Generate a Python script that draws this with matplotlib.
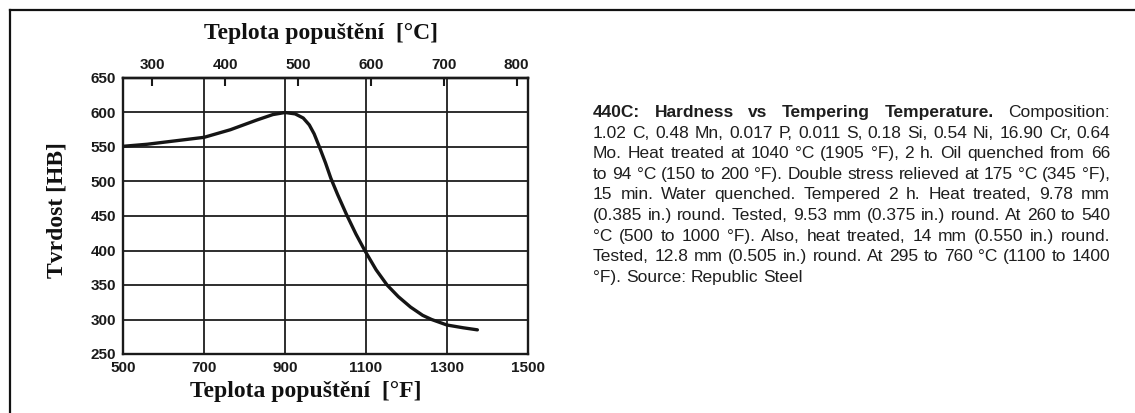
import matplotlib
matplotlib.use("Agg")
import matplotlib.pyplot as plt
from matplotlib.lines import Line2D

# ---------------- data ----------------
temp_F = [500, 560, 630, 700, 765, 830, 870, 900, 925, 945, 960, 972, 985,
          1000, 1013, 1030, 1052, 1075, 1097, 1125, 1152, 1180, 1210, 1240,
          1262, 1300, 1340, 1375]
hardness_HB = [551, 554, 559, 564, 575, 589, 597, 600, 598, 592, 582, 569, 550,
               527, 505, 481, 452, 424, 400, 372, 350, 333, 318, 306,
               300, 292, 288, 285]
x_ticks_F = [500, 700, 900, 1100, 1300, 1500]
y_ticks_HB = [250, 300, 350, 400, 450, 500, 550, 600, 650]
top_ticks_C = [300, 400, 500, 600, 700, 800]

title_top = "Teplota popuštění  [°C]"
title_bottom = "Teplota popuštění  [°F]"
ylabel = "Tvrdost [HB]"

# description, one entry per line: list of (word, bold)
desc_lines = [
    [("440C:", True), ("Hardness", True), ("vs", True), ("Tempering", True),
     ("Temperature.", True), ("Composition:", False)],
    "1.02 C, 0.48 Mn, 0.017 P, 0.011 S, 0.18 Si, 0.54 Ni, 16.90 Cr, 0.64",
    "Mo. Heat treated at 1040 °C (1905 °F), 2 h. Oil quenched from 66",
    "to 94 °C (150 to 200 °F). Double stress relieved at 175 °C (345 °F),",
    "15 min. Water quenched. Tempered 2 h. Heat treated, 9.78 mm",
    "(0.385 in.) round. Tested, 9.53 mm (0.375 in.) round. At 260 to 540",
    "°C (500 to 1000 °F). Also, heat treated, 14 mm (0.550 in.) round.",
    "Tested, 12.8 mm (0.505 in.) round. At 295 to 760 °C (1100 to 1400",
    "°F). Source: Republic Steel",
]

W, H = 1135, 413
fig = plt.figure(figsize=(W / 100, H / 100), dpi=100)
fig.patch.set_facecolor("white")

def fx(px):
    return px / W

def fy(py):
    return 1 - py / H

# ---------------- main axes ----------------
ax_l, ax_r, ax_t, ax_b = 123, 528, 78, 354
ax = fig.add_axes([fx(ax_l), fy(ax_b), fx(ax_r - ax_l), (ax_b - ax_t) / H])
ax.plot(temp_F, hardness_HB, color="#151515", lw=2.4, solid_capstyle="round",
        solid_joinstyle="round", zorder=3)
ax.set_xlim(500, 1500)
ax.set_ylim(250, 650)
ax.set_xticks(x_ticks_F)
ax.set_yticks(y_ticks_HB)
ax.grid(True, color="#1e1e1e", lw=1.3)
ax.set_axisbelow(True)
ax.tick_params(length=0, labelsize=11, pad=5, colors="#1a1a1a")
for lab in ax.get_xticklabels() + ax.get_yticklabels():
    lab.set_fontweight("bold")
    lab.set_family("Liberation Sans")
for sp in ax.spines.values():
    sp.set_linewidth(1.7)
    sp.set_color("#1a1a1a")

def f2c(f):
    return (f - 32) * 5 / 9

def c2f(c):
    return c * 9 / 5 + 32

sec = ax.secondary_xaxis("top", functions=(f2c, c2f))
sec.set_xticks(top_ticks_C)
sec.tick_params(direction="in", length=6, width=1.5, pad=4, labelsize=11,
                colors="#1a1a1a")
for lab in sec.get_xticklabels():
    lab.set_fontweight("bold")
    lab.set_family("Liberation Sans")
sec.spines["top"].set_linewidth(1.7)

# ---------------- titles ----------------
fig.text(fx(321), fy(33), title_top, ha="center", va="center",
         family="Liberation Serif", fontweight="bold", fontsize=17, color="#111")
fig.text(fx(306), fy(392), title_bottom, ha="center", va="center",
         family="Liberation Serif", fontweight="bold", fontsize=17, color="#111")
fig.text(fx(57), fy(210), ylabel, ha="center", va="center", rotation=90,
         family="Liberation Serif", fontweight="bold", fontsize=17, color="#111")

# ---------------- frame (top and left border) ----------------
fig.add_artist(Line2D([fx(10), 1.0], [fy(10), fy(10)], transform=fig.transFigure,
                      color="#111", lw=1.6))
fig.add_artist(Line2D([fx(10), fx(10)], [fy(10), 0.0], transform=fig.transFigure,
                      color="#111", lw=1.6))

# ---------------- justified description text ----------------
x0, x1 = 593, 1110
y_first, line_gap = 112.5, 20.6
fs_base = 12.5
min_space = 3.0
fig.canvas.draw()
renderer = fig.canvas.get_renderer()
for i, line in enumerate(desc_lines):
    if isinstance(line, str):
        words = [(w, False) for w in line.split(" ")]
    else:
        words = line
    ypos = fy(y_first + i * line_gap)
    texts = []
    for w, b in words:
        t = fig.text(0, ypos, w, ha="left", va="center", family="Liberation Sans",
                     fontsize=fs_base, fontweight="bold" if b else "normal",
                     color="#1e1e1e")
        texts.append(t)
    widths = [t.get_window_extent(renderer).width for t in texts]
    last = (i == len(desc_lines) - 1)
    n_gap = max(len(texts) - 1, 1)
    fs = fs_base
    if not last and sum(widths) + n_gap * min_space > (x1 - x0):
        scale = (x1 - x0 - n_gap * min_space) / sum(widths)
        fs = fs_base * scale
        for t in texts:
            t.set_fontsize(fs)
        widths = [t.get_window_extent(renderer).width for t in texts]
    if last:
        space = fs * 100 / 72 * 0.278
    else:
        space = (x1 - x0 - sum(widths)) / n_gap
    x = x0
    for t, wd in zip(texts, widths):
        t.set_x(fx(x))
        x += wd + space

fig.savefig("out.png", dpi=100, facecolor="white")
